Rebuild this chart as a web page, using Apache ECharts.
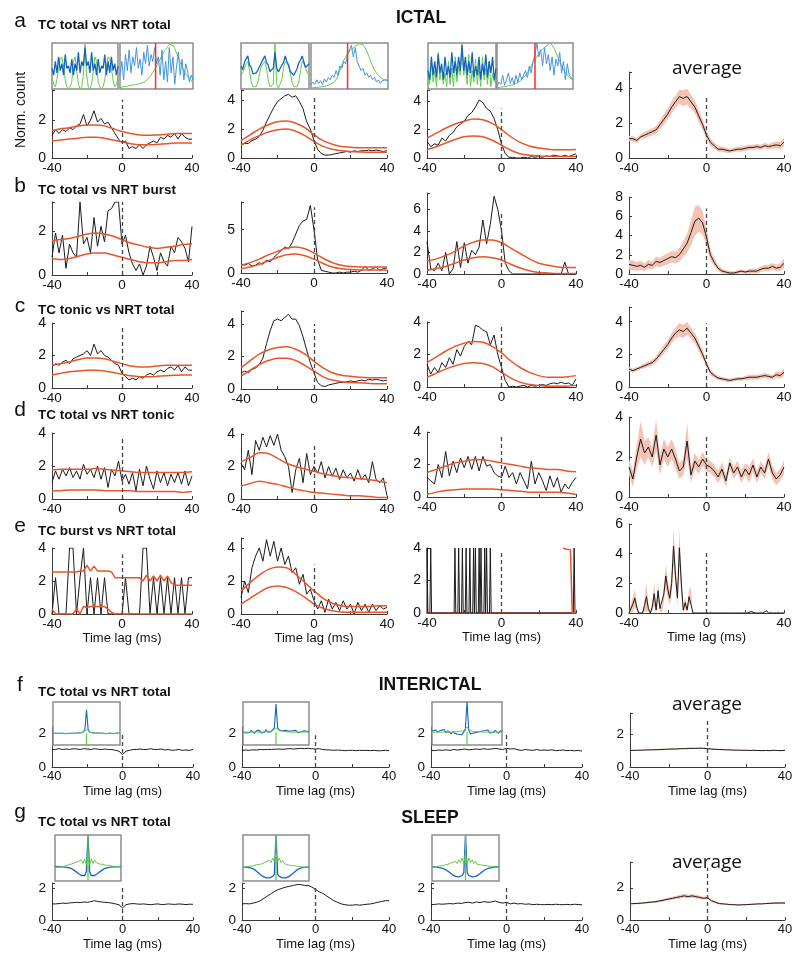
<!DOCTYPE html>
<html><head><meta charset="utf-8">
<script src="https://cdn.jsdelivr.net/npm/echarts@6/dist/echarts.min.js"></script>
<style>html,body{margin:0;padding:0;background:#fff}#c{width:800px;height:963px}</style>
</head><body><div id="c"></div>
<script>
// ---------------- x grids (lags, ms) ----------------
const L2 = [-40,-38,-36,-34,-32,-30,-28,-26,-24,-22,-20,-18,-16,-14,-12,-10,-8,-6,-4,-2,0,2,4,6,8,10,12,14,16,18,20,22,24,26,28,30,32,34,36,38,40];
const L5 = [-40,-35,-30,-25,-20,-15,-10,-5,0,5,10,15,20,25,30,35,40];
const L1 = [-40,-39,-38,-37,-36,-35,-34,-33,-32,-31,-30,-29,-28,-27,-26,-25,-24,-23,-22,-21,-20,-19,-18,-17,-16,-15,-14,-13,-12,-11,-10,-9,-8,-7,-6,-5,-4,-3,-2,-1,0,1,2,3,4,5,6,7,8,9,10,11,12,13,14,15,16,17,18,19,20,21,22,23,24,25,26,27,28,29,30,31,32,33,34,35,36,37,38,39,40];
const IDX = [0,1,2,3,4,5,6,7,8,9,10,11,12,13,14,15,16,17,18,19,20,21,22,23,24,25,26,27,28,29,30,31,32,33,34,35,36,37,38,39,40];

// ---------------- row a ----------------
const a1Black = [1.2,1.5,1.3,1.5,1.4,1.6,1.5,1.7,1.8,2.3,1.7,2.0,2.5,1.9,2.1,1.8,1.9,1.6,1.3,1.0,0.8,0.9,0.5,0.6,0.5,0.7,0.5,0.7,0.8,0.9,0.8,1.1,1.0,1.2,1.1,1.3,1.0,1.3,1.1,1.0,1.0];
const a1Up = [1.45,1.55,1.6,1.7,1.75,1.75,1.7,1.55,1.4,1.3,1.22,1.2,1.22,1.25,1.3,1.3,1.3];
const a1Lo = [0.9,0.95,1.0,1.05,1.1,1.1,1.05,0.95,0.85,0.75,0.7,0.7,0.72,0.75,0.8,0.8,0.8];
const a2Black = [0.9,1.0,1.0,1.2,1.3,1.5,1.9,2.5,3.0,3.5,3.9,4.1,4.3,4.4,4.2,4.3,3.9,3.4,2.5,2.0,1.2,0.6,0.3,0.2,0.2,0.25,0.3,0.35,0.4,0.45,0.4,0.5,0.45,0.5,0.5,0.55,0.5,0.55,0.5,0.45,0.5];
const a2Up = [1.2,1.6,2.0,2.3,2.5,2.55,2.4,2.1,1.6,1.2,0.95,0.8,0.75,0.7,0.7,0.7,0.7];
const a2Lo = [0.9,1.25,1.55,1.8,1.95,2.0,1.85,1.55,1.15,0.8,0.6,0.5,0.45,0.42,0.4,0.4,0.4];
const a3Black = [1.2,0.8,1.0,0.9,1.4,1.2,1.6,1.8,2.2,2.4,2.6,3.0,3.2,3.6,4.1,3.9,3.5,3.3,2.8,2.0,1.0,0.3,0.05,0.05,0.0,0.0,0.05,0.0,0.1,0.05,0.1,0.05,0.15,0.1,0.2,0.15,0.1,0.2,0.1,0.2,0.3];
const a3Up = [1.4,1.75,2.1,2.4,2.6,2.75,2.7,2.45,2.0,1.5,1.1,0.85,0.7,0.62,0.58,0.58,0.6];
const a3Lo = [0.6,0.8,1.05,1.3,1.5,1.55,1.5,1.25,0.9,0.55,0.3,0.2,0.15,0.12,0.1,0.1,0.1];
const a4Mean = [1.1,1.1,1.0,1.2,1.3,1.4,1.5,1.6,1.9,2.2,2.5,2.9,3.2,3.5,3.4,3.5,3.2,2.9,2.4,1.9,1.3,0.9,0.7,0.5,0.5,0.45,0.4,0.45,0.5,0.5,0.55,0.6,0.6,0.65,0.6,0.7,0.65,0.7,0.75,0.7,0.9];
const a4Sem = [0.15,0.15,0.15,0.15,0.18,0.2,0.2,0.22,0.25,0.3,0.3,0.35,0.35,0.4,0.45,0.45,0.4,0.35,0.35,0.3,0.25,0.2,0.18,0.15,0.15,0.15,0.12,0.12,0.15,0.15,0.15,0.15,0.15,0.15,0.15,0.15,0.15,0.18,0.2,0.2,0.25];

// row a insets
const aL1Blue = [0.45,0.3,0.6,0.35,0.7,0.4,0.55,0.3,0.75,0.45,0.5,0.35,0.65,0.3,0.55,0.4,0.8,0.35,0.6,0.5,0.9,0.5,0.6,0.35,0.8,0.4,0.55,0.3,0.65,0.35,0.5,0.45,0.75,0.3,0.6,0.35,0.7,0.4,0.55,0.3,0.5];
const aL1Green = [0.25,0.1,0.05,0.2,0.45,0.65,0.7,0.5,0.2,0.05,0.0,0.05,0.15,0.6,0.7,0.4,0.1,0.0,0.05,0.3,1.0,0.3,0.05,0.0,0.1,0.4,0.7,0.6,0.15,0.05,0.0,0.05,0.2,0.5,0.7,0.65,0.45,0.2,0.05,0.1,0.25];
const aR1Blue = [0.3,0.6,0.2,0.75,0.4,0.85,0.35,0.7,0.5,0.9,0.45,0.65,0.3,0.8,0.55,0.95,0.5,0.75,0.6,0.9,0.55,0.7,0.3,0.85,0.2,0.6,0.15,0.9,0.35,0.7,0.1,0.5,0.8,0.3,0.65,0.2,0.55,0.4,0.15,0.3,0.2];
const aR1Green = [0.03,0.04,0.05,0.05,0.06,0.07,0.08,0.08,0.09,0.1,0.11,0.12,0.13,0.15,0.17,0.2,0.25,0.3,0.36,0.42,0.5,0.58,0.65,0.72,0.8,0.86,0.92,0.97,1.0,0.95,0.88,0.78,0.68,0.58,0.48,0.4,0.33,0.27,0.22,0.18,0.15];
const aL2Blue = [0.5,0.42,0.58,0.6,0.72,0.52,0.47,0.33,0.32,0.35,0.42,0.44,0.57,0.6,0.72,0.58,0.52,0.38,0.37,0.45,0.8,0.45,0.37,0.4,0.52,0.58,0.72,0.6,0.52,0.38,0.37,0.3,0.37,0.44,0.57,0.63,0.72,0.58,0.47,0.48,0.55];
const aL2Green = [0.3,0.35,0.45,0.55,0.6,0.4,0.15,0.05,0.02,0.05,0.15,0.35,0.5,0.55,0.6,0.45,0.2,0.05,0.02,0.1,1.0,0.1,0.02,0.05,0.2,0.45,0.6,0.55,0.5,0.35,0.15,0.05,0.02,0.05,0.15,0.4,0.6,0.55,0.45,0.35,0.3];
const aR2Blue = [0.1,0.15,0.1,0.2,0.12,0.18,0.1,0.22,0.15,0.25,0.2,0.3,0.25,0.4,0.3,0.5,0.45,0.6,0.55,0.75,0.85,0.95,0.7,0.9,0.6,0.5,0.4,0.45,0.3,0.35,0.25,0.3,0.2,0.25,0.15,0.2,0.12,0.18,0.15,0.2,0.15];
const aR2Green = [0.02,0.02,0.03,0.03,0.04,0.05,0.05,0.06,0.07,0.08,0.1,0.12,0.15,0.2,0.28,0.4,0.52,0.62,0.7,0.78,0.82,0.86,0.9,0.93,0.96,0.98,1.0,0.97,0.9,0.82,0.72,0.6,0.5,0.42,0.35,0.3,0.25,0.22,0.2,0.18,0.2];
const aL3Blue = [0.4,0.2,0.7,0.3,0.6,0.25,0.75,0.35,0.55,0.2,0.7,0.3,0.5,0.25,0.8,0.35,0.6,0.3,0.7,0.4,0.95,0.4,0.7,0.3,0.6,0.35,0.8,0.25,0.5,0.3,0.7,0.2,0.55,0.3,0.75,0.25,0.6,0.35,0.7,0.2,0.45];
const aL3Green = [0.3,0.1,0.6,0.15,0.4,0.05,0.8,0.2,0.5,0.1,0.35,0.05,0.6,0.1,0.45,0.05,0.7,0.15,0.5,0.3,1.0,0.3,0.55,0.1,0.75,0.05,0.4,0.15,0.65,0.1,0.5,0.05,0.7,0.2,0.45,0.1,0.6,0.05,0.35,0.15,0.3];
const aR3Blue = [0.05,0.15,0.1,0.3,0.08,0.2,0.35,0.12,0.25,0.1,0.3,0.15,0.35,0.2,0.3,0.4,0.25,0.5,0.35,0.6,0.75,1.0,0.7,0.85,0.5,0.9,0.55,0.75,0.4,0.7,0.3,0.65,0.5,0.8,0.35,0.6,0.2,0.55,0.3,0.25,0.2];
const aR3Green = [0.03,0.03,0.04,0.05,0.05,0.06,0.07,0.08,0.09,0.1,0.12,0.14,0.17,0.2,0.25,0.3,0.36,0.42,0.5,0.58,0.64,0.7,0.76,0.82,0.87,0.9,0.94,0.98,1.0,0.95,0.88,0.8,0.7,0.6,0.5,0.42,0.35,0.3,0.25,0.22,0.2];
const aRedPos = [19.5, 19, 20];

// ---------------- row b ----------------
const b1Black = [0.8,1.9,1.0,1.8,0.3,1.4,1.0,0.8,3.3,1.4,1.7,1.0,2.6,1.3,2.2,1.5,2.9,3.0,3.3,3.3,1.4,1.8,1.0,0.5,0.2,0.5,0.0,0.4,1.3,0.8,0.2,1.0,0.6,0.4,1.3,1.0,1.7,1.5,1.2,0.6,2.2];
const b1Up = [1.55,1.6,1.65,1.75,1.85,1.9,1.85,1.75,1.6,1.45,1.35,1.25,1.2,1.25,1.3,1.38,1.4];
const b1Lo = [0.75,0.7,0.75,0.85,0.95,1.0,1.0,0.9,0.8,0.7,0.6,0.55,0.55,0.6,0.65,0.65,0.7];
const b2Black = [1.0,0.9,1.1,0.8,0.9,1.2,1.0,1.5,1.3,1.8,2.2,2.6,3.0,2.8,3.5,4.5,5.5,6.0,6.2,7.8,5.0,1.5,0.3,0.2,0.1,0.0,0.0,0.1,0.0,0.1,0.1,0.2,0.1,0.3,0.8,0.3,0.5,0.7,0.3,0.5,0.6];
const b2Up = [0.9,1.2,1.6,2.1,2.5,2.85,3.0,2.8,2.3,1.7,1.2,0.9,0.75,0.7,0.7,0.7,0.7];
const b2Lo = [0.5,0.7,1.0,1.4,1.8,2.1,2.2,2.0,1.6,1.1,0.7,0.5,0.4,0.35,0.35,0.35,0.35];
const b3Black = [3.0,0.5,0.3,1.0,0.3,2.0,0.0,0.5,3.0,0.6,2.9,1.0,2.2,1.8,2.5,5.0,2.8,4.6,7.2,6.0,4.0,1.0,0.3,0.0,0.0,0.0,0.0,0.0,0.0,0.0,0.0,0.0,0.0,0.0,0.0,0.0,0.0,1.1,0.0,0.0,0.0];
const b3Up = [1.2,1.4,1.7,2.1,2.6,2.95,3.15,3.15,2.9,2.4,1.9,1.4,1.0,0.8,0.65,0.6,0.6];
const b3Lo = [0.35,0.5,0.7,1.0,1.3,1.5,1.6,1.5,1.3,0.9,0.55,0.3,0.15,0.1,0.05,0.05,0.05];
const b4Mean = [1.0,0.9,0.8,0.9,0.7,1.0,0.9,1.3,1.2,1.4,1.6,1.8,1.7,2.0,2.6,3.2,4.3,5.5,5.8,5.3,3.8,2.0,1.2,0.6,0.3,0.2,0.1,0.1,0.2,0.3,0.2,0.3,0.3,0.3,0.5,0.6,0.6,0.8,0.6,0.7,1.1];
const b4Sem = [0.5,0.5,0.45,0.45,0.4,0.45,0.4,0.5,0.5,0.55,0.55,0.6,0.6,0.7,0.8,1.0,1.3,1.5,1.4,1.2,0.9,0.6,0.4,0.3,0.25,0.2,0.2,0.15,0.2,0.2,0.2,0.25,0.25,0.25,0.3,0.3,0.35,0.35,0.35,0.4,0.5];

// ---------------- row c ----------------
const c1Black = [1.3,1.5,1.4,1.6,1.7,1.5,1.8,1.9,2.0,2.1,2.3,2.0,2.7,2.1,2.3,2.0,1.9,1.7,1.5,1.4,0.9,0.7,0.5,0.6,0.5,0.7,0.6,0.8,0.9,0.8,1.0,1.1,1.0,1.2,1.3,1.1,1.4,1.0,1.3,1.1,1.1];
const c1Up = [1.4,1.5,1.6,1.75,1.85,1.85,1.8,1.65,1.5,1.35,1.3,1.3,1.35,1.4,1.4,1.4,1.4];
const c1Lo = [0.8,0.9,1.0,1.05,1.1,1.1,1.05,0.95,0.85,0.75,0.7,0.7,0.72,0.75,0.78,0.8,0.8];
const c2Black = [1.0,1.1,1.0,1.2,1.3,1.5,1.9,2.8,3.6,4.2,4.3,4.2,4.4,4.6,4.3,4.3,3.9,3.2,2.4,1.6,1.0,0.4,0.2,0.15,0.25,0.3,0.35,0.4,0.4,0.45,0.5,0.45,0.5,0.55,0.5,0.6,0.55,0.6,0.55,0.5,0.55];
const c2Up = [1.3,1.75,2.15,2.4,2.55,2.6,2.45,2.15,1.7,1.3,1.0,0.85,0.78,0.72,0.7,0.7,0.7];
const c2Lo = [0.8,1.15,1.5,1.75,1.9,1.9,1.75,1.45,1.1,0.75,0.55,0.45,0.4,0.38,0.35,0.33,0.33];
const c3Black = [1.4,0.8,1.2,0.9,1.5,1.2,1.8,1.4,2.3,1.9,2.5,2.8,2.6,3.8,3.7,3.5,3.4,2.6,3.2,2.0,1.2,0.4,0.0,0.05,0.0,0.05,0.1,0.0,0.1,0.05,0.1,0.15,0.1,0.2,0.25,0.2,0.3,0.2,0.25,0.1,0.5];
const c3Up = [1.5,1.85,2.2,2.5,2.7,2.8,2.75,2.5,2.1,1.6,1.2,0.9,0.7,0.6,0.6,0.62,0.7];
const c3Lo = [0.6,0.85,1.1,1.3,1.45,1.5,1.45,1.25,0.9,0.55,0.3,0.15,0.1,0.05,0.05,0.05,0.1];
const c4Mean = [1.1,1.0,1.1,1.2,1.3,1.4,1.5,1.7,2.0,2.3,2.6,3.0,3.3,3.5,3.4,3.6,3.3,3.0,2.5,2.0,1.4,0.9,0.7,0.55,0.5,0.45,0.4,0.45,0.5,0.5,0.55,0.6,0.6,0.6,0.65,0.7,0.65,0.6,0.75,0.7,0.9];
const c4Sem = [0.12,0.12,0.12,0.12,0.15,0.15,0.18,0.2,0.22,0.25,0.28,0.3,0.35,0.4,0.4,0.4,0.35,0.32,0.3,0.25,0.2,0.18,0.15,0.12,0.12,0.12,0.12,0.12,0.12,0.12,0.12,0.15,0.15,0.15,0.15,0.15,0.15,0.15,0.18,0.2,0.22];

// ---------------- row d ----------------
const d1Black = [1.0,1.7,1.2,1.8,1.4,1.9,1.3,1.7,1.2,2.1,1.5,1.8,1.3,2.0,1.2,1.9,0.7,1.8,1.4,2.3,1.1,1.5,0.9,1.6,0.5,1.8,0.8,2.0,1.2,0.6,1.7,1.0,1.6,0.8,1.5,1.0,1.6,0.9,1.7,0.8,1.4];
const d1Up = [1.75,1.8,1.8,1.8,1.8,1.85,1.8,1.75,1.7,1.65,1.6,1.6,1.6,1.6,1.6,1.6,1.65];
const d1Lo = [0.5,0.5,0.55,0.55,0.55,0.55,0.5,0.5,0.5,0.5,0.45,0.45,0.45,0.45,0.45,0.4,0.45];
const d2Black = [2.2,1.8,3.0,1.5,3.6,3.0,3.8,3.2,3.9,3.3,4.0,3.0,2.6,2.0,0.4,1.8,2.5,1.0,2.8,1.5,2.0,1.6,2.3,1.3,2.0,1.4,1.9,1.2,1.8,1.3,1.6,1.1,1.8,1.2,1.5,1.0,2.3,1.2,1.0,1.3,0.2];
const d2Up = [2.3,2.55,2.85,2.8,2.5,2.2,2.0,1.85,1.7,1.55,1.45,1.35,1.3,1.25,1.2,1.1,1.0];
const d2Lo = [0.8,0.95,1.1,1.0,0.9,0.75,0.6,0.5,0.4,0.35,0.3,0.25,0.2,0.2,0.15,0.1,0.1];
const d3Black = [1.2,1.0,0.8,2.0,1.2,2.8,1.3,2.2,1.5,2.4,1.8,2.5,1.7,2.5,1.6,2.5,1.9,2.0,1.5,1.3,1.2,1.9,1.2,1.5,0.8,1.5,1.0,0.5,2.2,0.8,1.5,1.0,0.4,1.3,0.6,1.2,0.3,0.8,0.5,0.9,1.2];
const d3Up = [1.5,1.7,1.9,2.1,2.2,2.3,2.3,2.2,2.1,2.0,1.9,1.8,1.75,1.7,1.7,1.6,1.55];
const d3Lo = [0.15,0.3,0.4,0.45,0.5,0.5,0.5,0.5,0.45,0.4,0.35,0.3,0.3,0.3,0.3,0.25,0.15];
const d4Mean = [1.5,0.9,2.0,2.9,2.2,2.5,2.0,3.1,1.6,2.4,2.0,2.4,1.9,1.3,1.5,2.8,1.1,1.8,1.5,1.9,1.6,1.5,1.3,1.0,1.4,0.8,1.7,1.2,1.5,1.0,1.4,1.1,1.6,1.0,1.5,1.2,1.9,1.2,0.9,1.1,1.5];
const d4Sem = [0.4,0.4,0.6,0.9,0.6,0.5,0.5,0.8,0.5,0.5,0.5,0.5,0.5,0.4,0.4,0.9,0.4,0.4,0.35,0.35,0.3,0.3,0.3,0.3,0.35,0.3,0.3,0.3,0.3,0.3,0.3,0.4,0.35,0.3,0.3,0.3,0.35,0.35,0.3,0.3,0.35];

// ---------------- row e ----------------
const e1Black = [0,2.2,0,0,0,4,4,0,2.2,4,0,2.2,0,2.2,0,2.2,0,0,0,0,0,2.2,0,0,0,0,4,4,0,2.2,0,2.2,0,2.2,0,2.2,0,2.2,0,2.2,2.2];
const e1Up = [2.55,2.55,2.55,2.55,2.55,2.55,2.55,2.55,2.6,2.6,2.95,2.6,2.9,2.6,2.6,2.6,2.6,2.55,2.2,2.2,2.2,2.2,2.2,2.2,2.2,2.2,2.0,2.35,2.0,2.3,2.0,2.35,2.0,2.3,1.9,1.75,1.75,1.75,1.75,1.75,1.75];
const e1Lo = [0.3,0,0,0,0,0,0,0.3,0,0.45,0.4,0.45,0.45,0.45,0.45,0.45,0.3,0.1,0,0,0,0,0,0,0,0,0,0,0,0,0,0,0,0,0,0,0,0,0,0,0];
const e2Black = [1.0,2.0,1.3,2.8,3.5,4.0,3.2,4.5,3.5,4.4,3.2,4.0,3.0,3.5,2.5,2.8,1.8,2.4,1.2,1.5,0.8,0.3,0.8,0.1,0.9,0.3,0.7,0.2,0.8,0.3,0.6,0.0,0.7,0.2,0.6,0.1,0.6,0.2,0.5,0.3,0.4];
const e2Up = [1.4,1.9,2.35,2.7,2.85,2.8,2.4,1.9,1.4,0.95,0.65,0.5,0.45,0.45,0.45,0.5,0.5];
const e2Lo = [0.6,0.95,1.3,1.6,1.7,1.6,1.35,1.0,0.6,0.35,0.2,0.12,0.1,0.1,0.1,0.1,0.1];
const e3SpikeLags = [-40,-38,-25,-23,-21,-19,-17,-15,-14,-12,-11,-9,-8,-6,39];
const e3SpikeVals = [4,4,4,4,4,4,4,4,4,4,4,4,4,4,4];
const e3UpLags = [33,34,35,36,37,38,39,40];
const e3UpVals = [4.0,3.95,3.92,3.97,3.9,0,0,0];
const e3Lo = [0,0,0,0,0,0,0,0,0,0,0,0,0,0,0,0,0];
const e4Mean = [0,0.3,0.6,1.0,0.4,0,0,0,0.5,1.1, 0.3,0,0.4,1.3,0.2,1.5,0.3,0.2,1.3,2.5, 1.6,1.0,2.0,4.5,2.5,1.0,4.4,2.0,0.2,0.7, 0.2,1.1,1.2,0,0,0,0,0,0,0, 0, 0,0.1,0,0,0,0,0,0,0,0, 0,0,0,0,0,0,0,0,0,0.05, 0,0,0.1,0.1,0,0,0,0.1,0,0, 0.15,0,0.1,0,0,0,0.1,0,0,0];
const e4Sem = [0,0.3,0.5,0.6,0.3,0,0,0,0.4,1.0, 0.2,0,0.3,0.8,0.2,0.7,0.2,0.2,0.6,0.8, 0.6,0.5,0.8,1.2,0.8,0.5,1.2,0.8,0.2,0.4, 0.2,0.5,0.5,0,0,0,0,0,0,0, 0, 0,0.05,0,0,0,0,0,0,0,0, 0,0,0,0,0,0,0,0,0,0.05, 0,0,0.05,0.05,0,0,0,0.05,0,0, 0.05,0,0.05,0,0,0,0.05,0,0,0];

// ---------------- row f (interictal) ----------------
const f1Black = [1.05,1.05,1.1,1.05,1.08,1.05,1.1,1.08,1.05,1.1,1.08,1.05,1.1,1.07,1.05,1.08,1.05,1.05,1.0,0.95,0.75,0.95,1.0,1.05,1.05,1.08,1.05,1.05,1.1,1.05,1.05,1.08,1.02,1.05,1.0,1.02,1.05,1.0,1.02,1.0,1.05];
const f2Black = [1.0,1.02,1.0,1.03,1.02,1.05,1.04,1.06,1.05,1.07,1.08,1.06,1.08,1.1,1.08,1.1,1.12,1.1,1.12,1.1,1.08,1.1,1.05,1.03,1.02,1.0,1.02,1.0,0.98,1.0,1.0,0.98,1.0,0.99,1.0,0.98,1.0,0.97,0.98,1.0,0.98];
const f3Black = [1.0,0.98,1.02,1.0,1.03,1.0,1.05,1.02,1.05,1.08,1.03,1.06,1.08,1.05,1.1,1.06,1.08,1.12,1.08,1.05,1.12,1.08,1.1,1.03,1.0,1.05,1.02,1.0,1.05,1.0,1.02,1.0,1.03,0.98,1.0,1.02,0.98,1.0,0.97,1.0,0.95];
const f4Mean = [1.0,1.02,1.02,1.03,1.04,1.05,1.05,1.06,1.07,1.08,1.09,1.1,1.1,1.12,1.12,1.13,1.14,1.14,1.15,1.14,1.12,1.1,1.08,1.07,1.06,1.05,1.04,1.03,1.03,1.02,1.02,1.01,1.02,1.01,1.0,1.01,1.0,1.02,1.01,1.0,1.02];
const f4Sem = [0.03,0.03,0.03,0.03,0.03,0.03,0.03,0.03,0.04,0.04,0.04,0.04,0.04,0.04,0.04,0.04,0.04,0.04,0.04,0.04,0.04,0.04,0.04,0.03,0.03,0.03,0.03,0.03,0.03,0.03,0.03,0.03,0.03,0.03,0.03,0.03,0.03,0.03,0.03,0.03,0.03];
const fIn1Blue = [0.27,0.28,0.27,0.26,0.27,0.28,0.27,0.27,0.26,0.28,0.27,0.28,0.27,0.28,0.28,0.29,0.28,0.3,0.3,0.35,0.82,0.35,0.3,0.3,0.28,0.29,0.28,0.27,0.28,0.27,0.27,0.28,0.26,0.27,0.28,0.27,0.26,0.27,0.28,0.27,0.27];
const fIn1Green = [0.27,0.27,0.27,0.27,0.27,0.27,0.27,0.27,0.27,0.27,0.27,0.27,0.27,0.27,0.27,0.28,0.28,0.29,0.3,0.33,0.36,0.33,0.3,0.29,0.28,0.28,0.27,0.27,0.27,0.27,0.27,0.27,0.27,0.27,0.27,0.27,0.27,0.27,0.27,0.27,0.27];
const fIn2Blue = [0.3,0.33,0.28,0.32,0.29,0.34,0.3,0.27,0.33,0.3,0.34,0.28,0.32,0.3,0.35,0.3,0.33,0.31,0.35,0.4,0.95,0.4,0.35,0.31,0.33,0.29,0.34,0.3,0.32,0.28,0.33,0.3,0.34,0.29,0.32,0.3,0.28,0.33,0.3,0.32,0.3];
const fIn2Green = [0.3,0.3,0.3,0.3,0.3,0.3,0.3,0.3,0.3,0.3,0.3,0.3,0.3,0.3,0.31,0.31,0.32,0.32,0.33,0.36,0.4,0.36,0.33,0.32,0.32,0.31,0.31,0.3,0.3,0.3,0.3,0.3,0.3,0.3,0.3,0.3,0.3,0.3,0.3,0.3,0.3];
const fIn3Blue = [0.32,0.28,0.35,0.3,0.27,0.34,0.3,0.36,0.28,0.33,0.3,0.26,0.32,0.27,0.3,0.25,0.28,0.24,0.27,0.35,1.0,0.35,0.26,0.25,0.28,0.24,0.3,0.27,0.32,0.28,0.33,0.3,0.35,0.28,0.32,0.29,0.34,0.3,0.27,0.33,0.3];
const fIn3Green = [0.3,0.3,0.3,0.3,0.3,0.3,0.3,0.3,0.3,0.3,0.3,0.3,0.3,0.31,0.31,0.31,0.32,0.32,0.33,0.36,0.42,0.36,0.33,0.32,0.32,0.31,0.31,0.31,0.3,0.3,0.3,0.3,0.3,0.3,0.3,0.3,0.3,0.3,0.3,0.3,0.3];
const fStem = [0.27, 0.3, 0.3];

// ---------------- row g (sleep) ----------------
const g1Black = [1.0,1.0,1.02,1.05,1.03,1.06,1.08,1.1,1.08,1.12,1.1,1.14,1.2,1.15,1.12,1.1,1.08,1.05,1.0,0.95,0.75,0.95,1.0,1.02,1.0,0.98,1.0,0.97,0.95,0.98,1.0,0.96,0.97,1.0,0.98,0.97,1.0,0.98,0.96,0.98,0.98];
const g2Black = [1.0,1.02,1.0,1.05,1.1,1.2,1.35,1.5,1.65,1.8,1.9,1.98,2.05,2.1,2.15,2.2,2.2,2.15,2.15,2.05,1.9,1.75,1.65,1.5,1.35,1.2,1.1,1.0,0.95,0.92,0.92,0.95,0.92,0.95,0.98,1.0,1.05,1.1,1.15,1.2,1.2];
const g3Black = [0.95,0.97,1.0,0.98,1.0,1.02,1.0,1.05,1.03,1.08,1.1,1.05,1.12,1.08,1.15,1.1,1.12,1.18,1.1,1.05,1.1,1.0,1.05,1.0,1.02,0.98,1.0,0.95,0.98,0.96,0.95,0.97,0.95,0.98,0.96,0.95,0.97,0.95,0.98,0.96,0.95];
const g4Mean = [1.0,1.02,1.03,1.05,1.07,1.1,1.12,1.15,1.2,1.25,1.3,1.35,1.4,1.45,1.5,1.45,1.5,1.45,1.4,1.35,1.38,1.2,1.1,1.02,1.0,0.98,0.95,0.95,0.93,0.95,0.95,0.97,0.98,1.0,1.0,1.02,1.03,1.05,1.05,1.06,1.05];
const g4Sem = [0.04,0.04,0.05,0.05,0.05,0.06,0.06,0.07,0.08,0.09,0.1,0.1,0.11,0.12,0.12,0.12,0.12,0.11,0.1,0.09,0.08,0.07,0.06,0.05,0.05,0.04,0.04,0.04,0.04,0.04,0.04,0.04,0.04,0.04,0.04,0.04,0.05,0.05,0.05,0.05,0.05];
const gIn1Blue = [0.32,0.3,0.31,0.3,0.31,0.3,0.3,0.29,0.29,0.28,0.27,0.25,0.22,0.2,0.17,0.14,0.12,0.1,0.12,0.2,1.0,0.2,0.12,0.1,0.12,0.14,0.17,0.2,0.22,0.25,0.27,0.28,0.29,0.29,0.3,0.3,0.31,0.3,0.31,0.3,0.32];
const gIn1Green = [0.3,0.31,0.3,0.32,0.31,0.32,0.33,0.34,0.35,0.34,0.37,0.36,0.4,0.37,0.42,0.4,0.46,0.38,0.48,0.35,0.6,0.35,0.48,0.38,0.46,0.4,0.42,0.37,0.4,0.36,0.37,0.34,0.35,0.34,0.33,0.32,0.31,0.32,0.3,0.31,0.3];
const gIn2Blue = [0.3,0.31,0.3,0.3,0.29,0.28,0.27,0.25,0.22,0.19,0.16,0.13,0.1,0.08,0.07,0.06,0.07,0.08,0.1,0.15,1.0,0.15,0.1,0.08,0.07,0.06,0.07,0.08,0.1,0.13,0.16,0.19,0.22,0.25,0.27,0.28,0.29,0.3,0.3,0.31,0.3];
const gIn2Green = [0.3,0.3,0.31,0.3,0.32,0.31,0.33,0.32,0.35,0.33,0.36,0.34,0.38,0.35,0.42,0.38,0.45,0.4,0.5,0.42,0.6,0.42,0.5,0.4,0.45,0.38,0.42,0.35,0.38,0.34,0.36,0.33,0.35,0.32,0.33,0.31,0.32,0.3,0.31,0.3,0.3];
const gIn3Blue = [0.3,0.3,0.31,0.3,0.29,0.28,0.28,0.27,0.25,0.22,0.2,0.17,0.14,0.12,0.1,0.08,0.09,0.1,0.12,0.18,1.0,0.18,0.12,0.1,0.09,0.08,0.1,0.12,0.14,0.17,0.2,0.22,0.25,0.27,0.28,0.28,0.29,0.3,0.31,0.3,0.3];
const gIn3Green = [0.3,0.3,0.31,0.31,0.32,0.32,0.33,0.33,0.35,0.34,0.37,0.35,0.4,0.36,0.43,0.38,0.46,0.4,0.5,0.38,0.6,0.38,0.5,0.4,0.46,0.38,0.43,0.36,0.4,0.35,0.37,0.34,0.35,0.33,0.33,0.32,0.32,0.31,0.31,0.3,0.3];
const gStem = [1, 1, 1];

// ---------------- text ----------------
const sectionTitles = ['ICTAL', 'INTERICTAL', 'SLEEP'];
const panelLetters = ['a','b','c','d','e','f','g'];
const panelTitles = ['TC total vs NRT total','TC total vs NRT burst','TC tonic vs NRT total','TC total vs NRT tonic','TC burst vs NRT total','TC total vs NRT total','TC total vs NRT total'];
const yName = 'Norm. count';
const xName = 'Time lag (ms)';
const avgLabel = 'average';

// ================= build =================
const FONT = '"Liberation Sans", Arial, Helvetica, sans-serif';
const NARROW = '"Liberation Sans Narrow", "Liberation Sans", Arial, sans-serif';
const AXC = '#3a3a3a';
const RED = '#e9542a';
const BAND = '#f5c3b3';
const COLS = [{left:52,width:140},{left:241,width:146},{left:427,width:149},{left:629,width:155}];
const COLS_FG = [{left:52,width:141},{left:242,width:147},{left:431,width:151},{left:630,width:155}];

const pairs = (xs, ys) => xs.map((x, i) => [x, ys[i]]);
const grid = [], xAxis = [], yAxis = [], series = [];

function mainPanel(p) {
  const c = (p.fg ? COLS_FG : COLS)[p.col];
  const gi = grid.length;
  const lblFont = p.fg ? NARROW : FONT;
  grid.push({left:c.left, top:p.top, width:c.width, height:p.bottom - p.top});
  xAxis.push({gridIndex:gi, type:'value', min:-40, max:40, interval:20,
    axisLine:{onZero:false, lineStyle:{color:AXC, width:1}},
    axisTick:{inside:true, length:3, lineStyle:{color:AXC}},
    axisLabel:{margin:3, fontSize:p.fg?13:13.5, color:'#111', fontFamily:lblFont,
      formatter: v => (v === -40 || v === 0 || v === 40) ? String(v) : ''},
    splitLine:{show:false},
    name: p.xName ? xName : '', nameLocation:'middle', nameGap:18,
    nameTextStyle:{fontSize:13, fontFamily:NARROW, color:'#111'}});
  yAxis.push({gridIndex:gi, type:'value', min:0, max:p.max, interval:p.iv,
    axisLine:{show:true, onZero:false, lineStyle:{color:AXC, width:1}},
    axisTick:{inside:true, length:3, lineStyle:{color:AXC}},
    axisLabel:{margin:6, fontSize:p.fg?13.5:14, color:'#111', fontFamily:lblFont,
      formatter: v => Math.abs(v / p.iv - Math.round(v / p.iv)) < 1e-6 ? String(v) : ''},
    splitLine:{show:false}});
  const xs = p.xs || L2;
  if (p.sem) {
    const mean = p.mean, sem = p.sem, mx = p.max;
    series.push({type:'custom', coordinateSystem:'cartesian2d', xAxisIndex:gi, yAxisIndex:gi,
      data:[[0,0]], silent:true, z:1,
      renderItem:(params, api) => {
        const up = xs.map((x, i) => api.coord([x, Math.min(mx, mean[i] + sem[i])]));
        const lo = xs.map((x, i) => api.coord([x, Math.max(0, mean[i] - sem[i])])).reverse();
        return {type:'polygon', shape:{points: up.concat(lo)}, style:{fill:BAND}};
      }});
  }
  const dash = {silent:true, symbol:['none','none'], animation:false, label:{show:false},
    lineStyle:{type:[4,3], color:'#454545', width:1.3},
    data:[[{coord:[0,0]},{coord:[0,p.dash]}]]};
  if (p.up) {
    const rx = p.redX || L5;
    series.push({type:'line', xAxisIndex:gi, yAxisIndex:gi, data:pairs(p.upX || rx, p.up), symbol:'none',
      smooth:p.redSmooth === false ? false : 0.3, lineStyle:{color:RED, width:1.5}, z:4, silent:true});
    series.push({type:'line', xAxisIndex:gi, yAxisIndex:gi, data:pairs(rx === p.upX ? L5 : rx, p.lo), symbol:'none',
      smooth:p.redSmooth === false ? false : 0.3, lineStyle:{color:RED, width:1.5}, z:p.loZ || 4, silent:true});
  }
  series.push({type:'line', xAxisIndex:gi, yAxisIndex:gi, data:p.blackData || pairs(xs, p.mean || p.black),
    symbol:'none', lineStyle:{color:'#1b1b1b', width:1}, z:3, silent:true, markLine:dash});
}

function inset(rect, lines, vlines) {
  const gi = grid.length;
  grid.push({left:rect.left, top:rect.top, width:rect.width, height:rect.height, show:true,
    borderColor:'#8c8c8c', borderWidth:1.5, backgroundColor:'#ffffff', z:5});
  xAxis.push({gridIndex:gi, type:'value', min:0, max:40, show:false});
  yAxis.push({gridIndex:gi, type:'value', min:0, max:1, show:false});
  lines.forEach(l => series.push({type:'line', xAxisIndex:gi, yAxisIndex:gi, data:pairs(IDX, l.d), symbol:'none',
    lineStyle:{color:l.c, width:l.w || 1}, z:6, silent:true, clip:true}));
  (vlines || []).forEach(v => series.push({type:'line', xAxisIndex:gi, yAxisIndex:gi,
    data:[[v.x, v.y0], [v.x, v.y1]], symbol:'none', lineStyle:{color:v.c, width:v.w || 1.3}, z:7, silent:true}));
}

// ---- main panels rows a-e ----
mainPanel({col:0, top:90, bottom:158, max:3.6, iv:2, black:a1Black, up:a1Up, lo:a1Lo, dash:3.1});
mainPanel({col:1, top:90, bottom:158, max:4.7, iv:2, black:a2Black, up:a2Up, lo:a2Lo, dash:4.2});
mainPanel({col:2, top:90, bottom:158, max:4.8, iv:2, black:a3Black, up:a3Up, lo:a3Lo, dash:3.5});
mainPanel({col:3, top:72, bottom:158, max:4.9, iv:2, mean:a4Mean, sem:a4Sem, dash:3.5});

mainPanel({col:0, top:202, bottom:275, max:3.3, iv:2, black:b1Black, up:b1Up, lo:b1Lo, dash:3.3});
mainPanel({col:1, top:202, bottom:273, max:8.2, iv:5, black:b2Black, up:b2Up, lo:b2Lo, dash:7.6});
mainPanel({col:2, top:193, bottom:274, max:7.5, iv:2, black:b3Black, up:b3Up, lo:b3Lo, dash:5.6});
mainPanel({col:3, top:197, bottom:274, max:8, iv:2, mean:b4Mean, sem:b4Sem, dash:6.8});

mainPanel({col:0, top:323, bottom:388, max:4, iv:2, black:c1Black, up:c1Up, lo:c1Lo, dash:3.8});
mainPanel({col:1, top:311, bottom:389, max:4.8, iv:2, black:c2Black, up:c2Up, lo:c2Lo, dash:4.0});
mainPanel({col:2, top:322, bottom:387, max:4, iv:2, black:c3Black, up:c3Up, lo:c3Lo, dash:3.7});
mainPanel({col:3, top:307, bottom:387, max:4.9, iv:2, mean:c4Mean, sem:c4Sem, dash:3.9});

mainPanel({col:0, top:433, bottom:499, max:4, iv:2, black:d1Black, up:d1Up, lo:d1Lo, dash:3.75});
mainPanel({col:1, top:434, bottom:499, max:4, iv:2, black:d2Black, up:d2Up, lo:d2Lo, dash:3.4});
mainPanel({col:2, top:432, bottom:497, max:4, iv:2, black:d3Black, up:d3Up, lo:d3Lo, dash:3.8});
mainPanel({col:3, top:417, bottom:497, max:4, iv:2, mean:d4Mean, sem:d4Sem, dash:3.1});

mainPanel({col:0, top:548, bottom:614, max:4, iv:2, black:e1Black, up:e1Up, lo:e1Lo, redX:L2, redSmooth:false, dash:3.6, xName:true});
mainPanel({col:1, top:538, bottom:614, max:4.6, iv:2, black:e2Black, up:e2Up, lo:e2Lo, dash:3.0, xName:true});
const e3Data = [];
e3SpikeLags.forEach((s, i) => { e3Data.push([s - 0.45, 0], [s, e3SpikeVals[i]], [s + 0.45, 0]); });
e3Data.sort((p, q) => p[0] - q[0]);
e3Data.unshift([-40, 0]); e3Data.push([40, 0]);
mainPanel({col:2, top:548, bottom:613, max:4, iv:2, blackData:e3Data, up:e3UpVals, upX:e3UpLags, lo:e3Lo, redX:e3UpLags, redSmooth:false, loZ:2, dash:3.75, xName:true});
mainPanel({col:3, top:524, bottom:613, max:6, iv:2, xs:L1, mean:e4Mean, sem:e4Sem, dash:4.2, xName:true});

// ---- rows f, g ----
mainPanel({fg:true, col:0, top:727, bottom:767, max:2.4, iv:2, black:f1Black, dash:1.95, xName:true});
mainPanel({fg:true, col:1, top:727, bottom:767, max:2.4, iv:2, black:f2Black, dash:1.9, xName:true});
mainPanel({fg:true, col:2, top:727, bottom:767, max:2.4, iv:2, black:f3Black, dash:1.95, xName:true});
mainPanel({fg:true, col:3, top:713, bottom:767, max:3.3, iv:2, mean:f4Mean, sem:f4Sem, dash:2.9, xName:true});

mainPanel({fg:true, col:0, top:883, bottom:920, max:2.3, iv:2, black:g1Black, dash:2.05, xName:true});
mainPanel({fg:true, col:1, top:883, bottom:920, max:2.3, iv:2, black:g2Black, dash:2.0, xName:true});
mainPanel({fg:true, col:2, top:883, bottom:920, max:2.3, iv:2, black:g3Black, dash:2.0, xName:true});
mainPanel({fg:true, col:3, top:862, bottom:920, max:3.6, iv:2, mean:g4Mean, sem:g4Sem, dash:3.25, xName:true});

// ---- insets row a ----
const BLUE_D = '#1565be', BLUE_L = '#4595dc', GREEN = '#63c94e', RLINE = '#ff2a2a';
const aRects = [
  [{left:52,top:43,width:66,height:46},{left:120,top:43,width:73,height:46}],
  [{left:241,top:43,width:68,height:46},{left:311,top:43,width:77,height:46}],
  [{left:428,top:43,width:68,height:46},{left:497,top:43,width:76,height:46}]
];
const aL = [[aL1Blue,aL1Green],[aL2Blue,aL2Green],[aL3Blue,aL3Green]];
const aR = [[aR1Blue,aR1Green],[aR2Blue,aR2Green],[aR3Blue,aR3Green]];
for (let k = 0; k < 3; k++) {
  inset(aRects[k][0], [{d:aL[k][1], c:GREEN, w:1}, {d:aL[k][0], c:BLUE_D, w:1.3}]);
  inset(aRects[k][1], [{d:aR[k][1], c:GREEN, w:1}, {d:aR[k][0], c:BLUE_L, w:1}],
    [{x:aRedPos[k], y0:0, y1:1, c:RLINE, w:1.5}]);
}
// ---- insets rows f, g ----
const fRects = [{left:53,top:702,width:67,height:43},{left:243,top:702,width:66,height:43},{left:432,top:702,width:70,height:43}];
const gRects = [{left:55,top:835,width:66,height:46},{left:243,top:835,width:66,height:46},{left:432,top:835,width:67,height:46}];
const fIn = [[fIn1Blue,fIn1Green],[fIn2Blue,fIn2Green],[fIn3Blue,fIn3Green]];
const gIn = [[gIn1Blue,gIn1Green],[gIn2Blue,gIn2Green],[gIn3Blue,gIn3Green]];
for (let k = 0; k < 3; k++) {
  inset(fRects[k], [{d:fIn[k][0], c:BLUE_D, w:1.1}, {d:fIn[k][1], c:GREEN, w:1}], [{x:20, y0:0, y1:fStem[k], c:GREEN, w:1.2}]);
  inset(gRects[k], [{d:gIn[k][0], c:BLUE_D, w:1.3}, {d:gIn[k][1], c:GREEN, w:1}], [{x:20, y0:0, y1:gStem[k], c:GREEN, w:1.3}]);
}

// ---- texts ----
const T = (text, x, y, font, align, extra) => Object.assign({type:'text', x, y, z:100, silent:true,
  style:{text, font, fill:'#111', textAlign:align || 'left', textVerticalAlign:'middle', align:align || 'left', verticalAlign:'middle'}}, extra || {});
const BOLD = 'bold 13.5px ' + FONT;
const graphic = [
  T(sectionTitles[0], 421, 18, 'bold 17.5px ' + FONT, 'center'),
  T(sectionTitles[1], 430, 685, 'bold 17.5px ' + FONT, 'center'),
  T(sectionTitles[2], 430, 818, 'bold 17.5px ' + FONT, 'center'),
  T(yName, 21, 110, '14px ' + FONT, 'center', {rotation: Math.PI / 2}),
  T(avgLabel, 707, 69, '19px "Open Sans", sans-serif', 'center'),
  T(avgLabel, 707, 705, '19px "Open Sans", sans-serif', 'center'),
  T(avgLabel, 707, 863, '19px "Open Sans", sans-serif', 'center')
];
const letterY = [21, 186, 306, 410, 526, 685, 812];
const titleY = [25, 190, 310, 415, 531, 692, 822];
panelLetters.forEach((l, i) => {
  graphic.push(T(l, 20, letterY[i], '21px ' + FONT, 'center'));
  graphic.push(T(panelTitles[i], 38, titleY[i], i >= 5 ? 'bold 13.5px ' + NARROW : BOLD, 'left'));
});

const chart = echarts.init(document.getElementById('c'), null, {renderer:'canvas'});
chart.setOption({animation:false, backgroundColor:'#ffffff', grid, xAxis, yAxis, series, graphic});
</script></body></html>
